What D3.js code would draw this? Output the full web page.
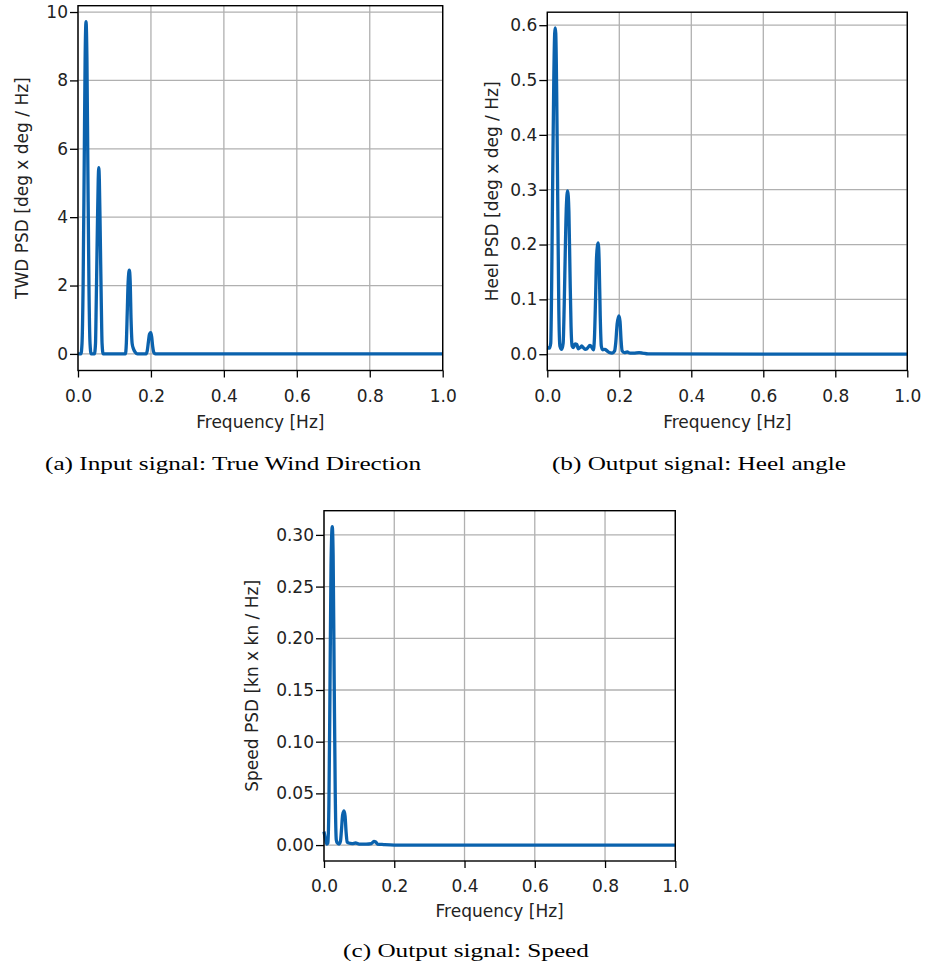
<!DOCTYPE html>
<html>
<head>
<meta charset="utf-8">
<script src="https://cdn.jsdelivr.net/npm/d3@7"></script>
<style>
  html, body { margin: 0; padding: 0; background: #fff; }
  svg { display: block; }
</style>
</head>
<body>
<svg id="chart" width="925" height="964"></svg>
<script>
// ---------------- data ----------------
const xTicks = [0.0, 0.2, 0.4, 0.6, 0.8, 1.0];
const xLabel = "Frequency [Hz]";

// (a) TWD PSD
const freqA = [0, 0.008, 0.011, 0.014, 0.017, 0.0195, 0.022, 0.0245, 0.027, 0.030, 0.033, 0.036,
  0.045, 0.048, 0.050, 0.053, 0.0555, 0.057, 0.0585, 0.061, 0.064, 0.066, 0.069,
  0.130, 0.1325, 0.135, 0.1375, 0.1407, 0.143, 0.1455, 0.1485, 0.152, 0.157, 0.163,
  0.187, 0.190, 0.193, 0.196, 0.1995, 0.202, 0.205, 0.208, 0.212, 1.0];
const psdA = [0, 0, 0.3, 2.0, 5.5, 8.6, 9.72, 8.6, 5.5, 2.0, 0.3, 0,
  0, 0.3, 1.5, 3.6, 5.1, 5.45, 5.1, 3.5, 1.4, 0.3, 0,
  0, 0.3, 1.2, 2.1, 2.45, 2.15, 1.0, 0.3, 0.15, 0.05, 0,
  0, 0.1, 0.35, 0.58, 0.62, 0.5, 0.2, 0.04, 0, 0];
const yTicksA = [0, 2, 4, 6, 8, 10];
const yLabelA = "TWD PSD [deg x deg / Hz]";
const captionA = "(a) Input signal: True Wind Direction";

// (b) Heel PSD
const freqB = [0, 0.006, 0.0095, 0.012, 0.015, 0.018, 0.0205, 0.022, 0.0235, 0.026, 0.029, 0.032, 0.035,
  0.040, 0.044, 0.047, 0.050, 0.053, 0.0565, 0.060, 0.063, 0.066, 0.069,
  0.073, 0.077, 0.082, 0.086, 0.091, 0.0955, 0.100, 0.105, 0.110, 0.1186, 0.124, 0.128,
  0.131, 0.134, 0.137, 0.1415, 0.144, 0.147, 0.150, 0.154, 0.160, 0.166, 0.172, 0.180,
  0.187, 0.190, 0.194, 0.199, 0.202, 0.205, 0.208, 0.214, 0.222, 0.230, 0.240, 0.255, 0.265, 0.280, 1.0];
const psdB = [0.012, 0.011, 0.02, 0.12, 0.32, 0.50, 0.585, 0.595, 0.585, 0.48, 0.28, 0.08, 0.015,
  0.009, 0.02, 0.09, 0.19, 0.27, 0.298, 0.26, 0.15, 0.05, 0.015,
  0.012, 0.019, 0.018, 0.01, 0.012, 0.015, 0.012, 0.009, 0.01, 0.016, 0.012, 0.008,
  0.03, 0.10, 0.18, 0.203, 0.17, 0.07, 0.015, 0.008, 0.009, 0.006, 0.003, 0.002,
  0.006, 0.02, 0.055, 0.07, 0.06, 0.025, 0.006, 0.003, 0.004, 0.002, 0.002, 0.003, 0.002, 0.0005, 0];
const yTicksB = [0.0, 0.1, 0.2, 0.3, 0.4, 0.5, 0.6];
const yLabelB = "Heel PSD [deg x deg / Hz]";
const captionB = "(b) Output signal: Heel angle";

// (c) Speed PSD
const freqC = [0, 0.004, 0.008, 0.011, 0.014, 0.017, 0.020, 0.0235, 0.026, 0.029, 0.032, 0.035,
  0.038, 0.043, 0.047, 0.050, 0.053, 0.057, 0.060, 0.063, 0.066, 0.070,
  0.080, 0.090, 0.100, 0.120, 0.135, 0.142, 0.147, 0.152, 0.170, 0.200, 1.0];
const psdC = [0.013, 0.006, 0.001, 0.002, 0.04, 0.15, 0.27, 0.308, 0.28, 0.16, 0.05, 0.005,
  0.002, 0.001, 0.004, 0.016, 0.029, 0.033, 0.028, 0.012, 0.003, 0.002,
  0.0015, 0.002, 0.001, 0.001, 0.0015, 0.0035, 0.003, 0.001, 0.0005, 0, 0];
const yTicksC = [0.00, 0.05, 0.10, 0.15, 0.20, 0.25, 0.30];
const yLabelC = "Speed PSD [kn x kn / Hz]";
const captionC = "(c) Output signal: Speed";

// ---------------- drawing ----------------
const svg = d3.select("#chart");
const LINE = "#0b62ad";
const FONT = "'DejaVu Sans', sans-serif";
const FS = 17;

const panels = [
  { freq: freqA, psd: psdA, yTicks: yTicksA, yFmt: d3.format("d"), yDom: [-0.485, 10.185], yLabel: yLabelA,
    caption: captionA, box: { l: 78, r: 442.7, t: 5.7, b: 370.5 },
    yLabelX: 27.8, xLabelY: 428, capX: 233, capY: 469.5 },
  { freq: freqB, psd: psdB, yTicks: yTicksB, yFmt: d3.format(".1f"), yDom: [-0.0297, 0.6237], yLabel: yLabelB,
    caption: captionB, box: { l: 547.3, r: 907.3, t: 12.2, b: 370.5 },
    yLabelX: 497.8, xLabelY: 428, capX: 699, capY: 469.5 },
  { freq: freqC, psd: psdC, yTicks: yTicksC, yFmt: d3.format(".2f"), yDom: [-0.0154, 0.3234], yLabel: yLabelC,
    caption: captionC, box: { l: 324, r: 675.3, t: 510.7, b: 861 },
    yLabelX: 257.8, xLabelY: 917, capX: 466, capY: 957 }
];

// caption scale factor (Computer Modern is wider than the fallback serif)
const capFont = "'Liberation Serif', 'DejaVu Serif', serif";
const capFS = 19;
const probe = svg.append("text").attr("font-family", capFont).attr("font-size", capFS).text(captionA);
const capScale = 376 / probe.node().getComputedTextLength();
probe.remove();

panels.forEach(p => {
  const { l, r, t, b } = p.box;
  const x = d3.scaleLinear().domain([0, 1]).range([l, r]);
  const y = d3.scaleLinear().domain(p.yDom).range([b, t]);
  const g = svg.append("g");

  // grid
  g.append("g").selectAll("line").data(xTicks).join("line")
    .attr("x1", d => x(d)).attr("x2", d => x(d)).attr("y1", t).attr("y2", b)
    .attr("stroke", "#b0b0b0").attr("stroke-width", 1.3);
  g.append("g").selectAll("line").data(p.yTicks).join("line")
    .attr("x1", l).attr("x2", r).attr("y1", d => y(d)).attr("y2", d => y(d))
    .attr("stroke", "#b0b0b0").attr("stroke-width", 1.3);

  // data line
  const pts = p.freq.map((f, i) => [f, p.psd[i]]);
  g.append("path").datum(pts)
    .attr("fill", "none").attr("stroke", LINE).attr("stroke-width", 3.3)
    .attr("stroke-linejoin", "round").attr("stroke-linecap", "butt")
    .attr("d", d3.line().x(d => x(d[0])).y(d => y(d[1])).curve(d3.curveMonotoneX));

  // axes
  const xAxis = d3.axisBottom(x).tickValues(xTicks).tickFormat(d3.format(".1f")).tickSize(7).tickPadding(12).tickSizeOuter(0);
  const yAxis = d3.axisLeft(y).tickValues(p.yTicks).tickFormat(p.yFmt).tickSize(8).tickPadding(2).tickSizeOuter(0);
  const gx = g.append("g").attr("transform", `translate(0,${b})`).call(xAxis);
  const gy = g.append("g").attr("transform", `translate(${l},0)`).call(yAxis);
  [gx, gy].forEach(ax => {
    ax.select(".domain").remove();
    ax.selectAll(".tick line").attr("stroke", "#000").attr("stroke-width", 1.3);
    ax.selectAll(".tick text").attr("font-family", FONT).attr("font-size", FS).attr("fill", "#222");
  });

  // frame
  g.append("rect").attr("x", l).attr("y", t).attr("width", r - l).attr("height", b - t)
    .attr("fill", "none").attr("stroke", "#000").attr("stroke-width", 1.4);

  // axis labels
  g.append("text").attr("x", (l + r) / 2).attr("y", p.xLabelY).attr("text-anchor", "middle")
    .attr("font-family", FONT).attr("font-size", FS).attr("fill", "#222").text(xLabel);
  g.append("text").attr("transform", `translate(${p.yLabelX},${(t + b) / 2}) rotate(-90)`)
    .attr("text-anchor", "middle").attr("font-family", FONT).attr("font-size", FS).attr("fill", "#222").text(p.yLabel);

  // caption
  const cap = g.append("text").attr("x", p.capX).attr("y", p.capY).attr("text-anchor", "middle")
    .attr("font-family", capFont).attr("font-size", capFS).attr("fill", "#000").text(p.caption);
  const natural = cap.node().getComputedTextLength();
  cap.attr("textLength", natural * capScale).attr("lengthAdjust", "spacingAndGlyphs");
});
</script>
</body>
</html>
